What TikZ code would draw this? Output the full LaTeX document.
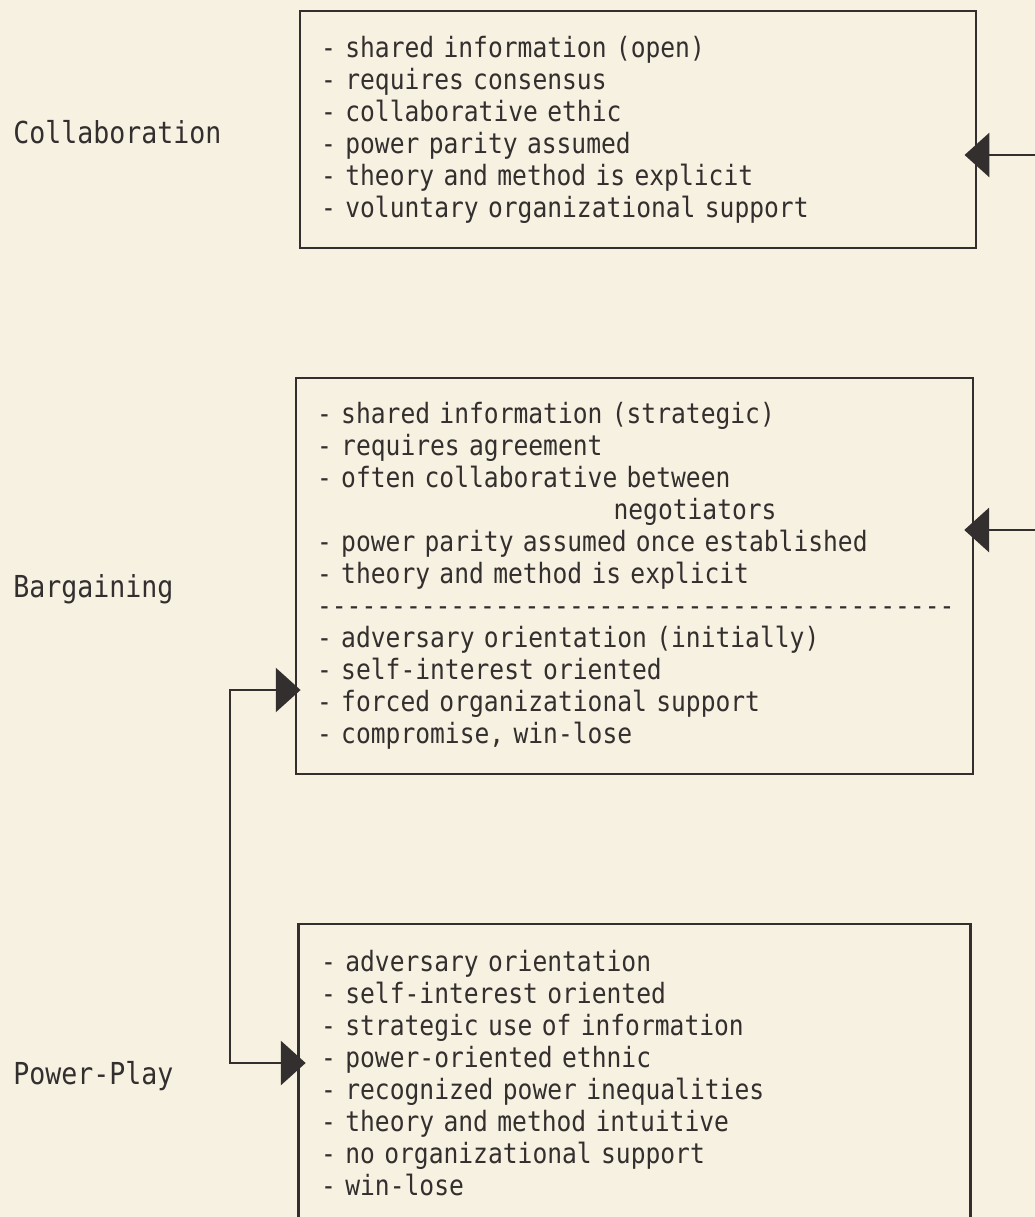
\documentclass[tikz,border=0pt]{standalone}
\usepackage{fontspec}
\setmonofont[FakeStretch=0.88]{DejaVu Sans Mono}
\usetikzlibrary{positioning,arrows.meta}
\definecolor{paper}{RGB}{246,241,224}
\definecolor{ink}{RGB}{52,47,47}

\begin{document}
\begin{tikzpicture}[
    >={Triangle[length=6.2mm,width=11mm]},
    listbox/.style={draw=ink, line width=1.9pt, text=ink, align=left, inner xsep=5.3mm,
                    font=\ttfamily\fontsize{19.9pt}{22.8pt}\selectfont},
    kind/.style={anchor=base west, text=ink, inner sep=0pt,
                 font=\ttfamily\fontsize{21.5pt}{24pt}\selectfont},
    link/.style={draw=ink, line width=1.9pt}
]

  % fondo
  \fill[paper] (0,0) rectangle (25.875,-30.425);
  \useasboundingbox (0,0) rectangle (25.875,-30.425);

  % etichette a sinistra
  \node[kind] (lcoll) at (0.325,-3.575) {Collaboration};
  \node[kind] (lbarg) at (0.325,-14.925) {Bargaining};
  \node[kind] (lpow) at (0.325,-27.1) {Power-Play};

  % riquadri
  \node[listbox, text width=15.84cm, minimum height=5.925cm] (coll) at (15.95,-3.24) {%
    - shared information (open)\\
    - requires consensus\\
    - collaborative ethic\\
    - power parity assumed\\
    - theory and method is explicit\\
    - voluntary organizational support};

  \node[listbox, text width=15.865cm, minimum height=9.9cm] (barg) at (15.86,-14.4) {%
    - shared information (strategic)\\
    - requires agreement\\
    - often collaborative between\\
    \phantom{xxxxxxxxxxxxxxxxxxxx}negotiators\\
    - power parity assumed once established\\
    - theory and method is explicit\\
    -------------------------------------------\\
    - adversary orientation (initially)\\
    - self-interest oriented\\
    - forced organizational support\\
    - compromise, win-lose};

  \node[listbox, draw=none, text width=15.665cm, minimum height=7.4cm, anchor=north] (pow) at (15.8625,-23.1) {%
    - adversary orientation\\
    - self-interest oriented\\
    - strategic use of information\\
    - power-oriented ethnic\\
    - recognized power inequalities\\
    - theory and method intuitive\\
    - no organizational support\\
    - win-lose};
  % riquadro aperto in basso
  \draw[link] (pow.south west) |- (pow.north east) -- (pow.south east);

  % frecce da destra
  \coordinate (in1) at (25.875,-3.875);
  \coordinate (in2) at (25.875,-13.25);
  \draw[link,->,shorten >=-3.2mm] (in1) -- (in1 -| coll.east);
  \draw[link,->,shorten >=-2.5mm] (in2) -- (in2 -| barg.east);

  % collegamento tra bargaining e power-play
  \coordinate (giro) at (5.75,-17.25);
  \draw[link,<->,shorten <=-1.5mm,shorten >=-1.75mm] (barg.west |- giro) -- (giro) |- (pow.west |- 0,-26.575);

\end{tikzpicture}
\end{document}
